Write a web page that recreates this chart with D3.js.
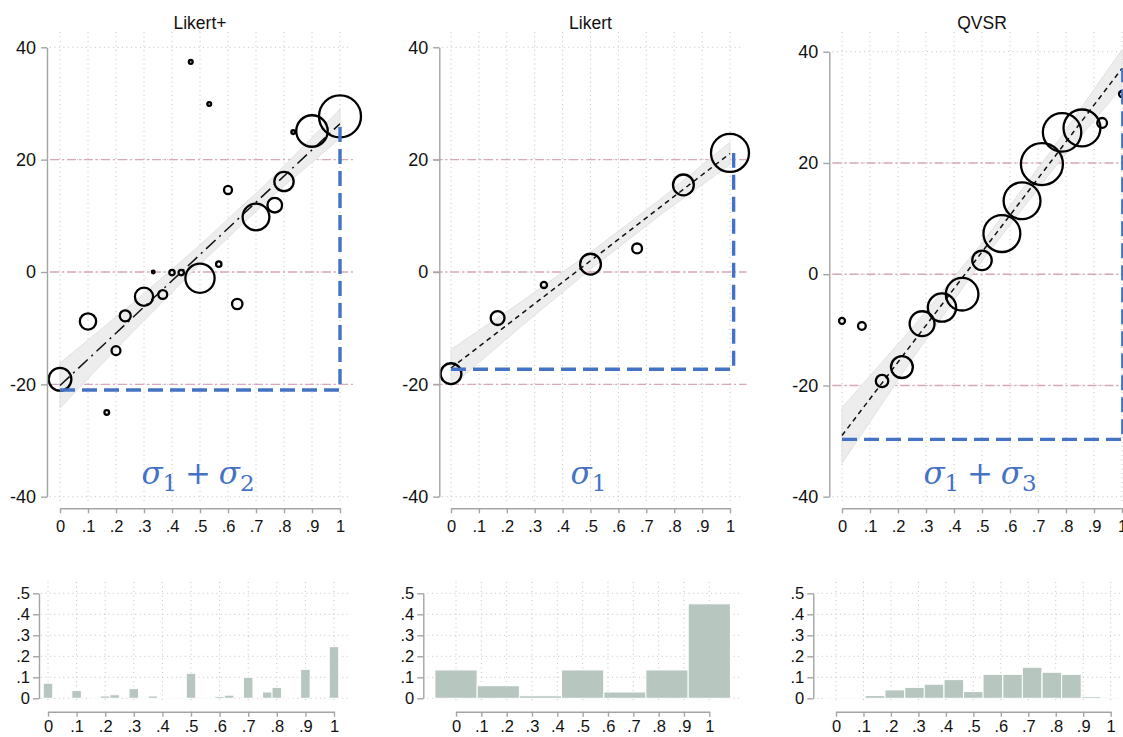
<!DOCTYPE html>
<html>
<head>
<meta charset="utf-8">
<title>Likert+ / Likert / QVSR</title>
<script src="https://cdn.jsdelivr.net/npm/d3@7"></script>
<style>
  body { margin: 0; background: #fff; }
  svg { display: block; font-family: "Liberation Sans", Arial, sans-serif; }
  .grid line { stroke: #c2c2c2; stroke-width: 1; stroke-dasharray: 1 3.5; }
  .axis path, .axis line { stroke: #a4a4a4; stroke-width: 1.4; }
  .axis text { fill: #111; font-family: "Liberation Sans", Arial, sans-serif; }
  .ytop text { font-size: 18px; }
  .xtop text { font-size: 16.5px; }
  .hist text { font-size: 16.5px; }
  .ref { stroke: #d8a8b8; stroke-width: 1.4; stroke-dasharray: 9 3 2 3; }
  .band { fill: #ededed; stroke: #dcdcdc; stroke-width: 0.8; }
  .fit { fill: none; stroke: #111; stroke-width: 1.5; }
  .bubble { fill: none; stroke: #000; stroke-width: 2.3; }
  .bar { fill: #b7c7c0; stroke: #fff; stroke-width: 1; }
  .anno { fill: none; stroke: #4472c4; stroke-width: 3.4; stroke-dasharray: 15 7; }
  .sigma { fill: #4472c4; font-family: "DejaVu Serif", serif; }
  .title { font-size: 17.5px; fill: #111; }
</style>
</head>
<body>
<svg id="chart" width="1123" height="737"></svg>
<script>

  // ---- data ----
  const likertPlusX = [0, .1, .167, .2, .233, .3, .333, .367, .4, .433, .467, .5, .533, .567, .6, .633, .7, .767, .8, .833, .9, 1];
  const likertPlusY = [-19.1, -8.8, -25, -14, -7.8, -4.4, 0, -4, -0.1, -0.1, 37.4, -1.1, 29.9, 1.4, 14.6, -5.7, 9.8, 11.9, 16.1, 24.9, 25.1, 27.7];
  const likertPlusShare = [.072, .037, .003, .011, .017, .046, .001, .011, .004, .004, .002, .119, .002, .004, .009, .015, .1, .03, .052, .002, .138, .246];

  const likertX = [0, .167, .333, .5, .667, .833, 1];
  const likertY = [-18.1, -8.2, -2.3, 1.4, 4.2, 15.5, 21.2];
  const likertShare = [.135, .06, .012, .135, .03, .135, .45];

  const qvsrX = [0, .071, .143, .214, .286, .357, .429, .5, .571, .643, .714, .786, .857, .929, 1];
  const qvsrY = [-8.4, -9.3, -19.2, -16.7, -8.9, -6, -3.6, 2.5, 7.3, 13.2, 19.8, 25.5, 26.3, 27.2, 32.4];
  const qvsrShare = [.003, .005, .013, .04, .052, .067, .089, .032, .114, .114, .148, .124, .114, .008, .003];

  // fitted line and confidence band, read at these x
  const fitX = [0, .25, .5, .75, 1];
  const likertPlusFit = [-20.2, -8.55, 3.1, 14.75, 26.4];
  const likertPlusLo = [-24.2, -11.15, 1.4, 13.15, 23.8];
  const likertPlusHi = [-16.2, -5.95, 4.8, 16.35, 29.0];
  const likertFit = [-17.1, -7.55, 2.0, 11.55, 21.1];
  const likertLo = [-20.4, -9.75, 0.5, 10.15, 19.1];
  const likertHi = [-13.8, -5.35, 3.5, 12.95, 23.1];
  const qvsrFit = [-29, -12.5, 4.0, 20.5, 37];
  const qvsrLo = [-34, -15.3, 2.4, 18.6, 33.6];
  const qvsrHi = [-24, -9.7, 5.6, 22.4, 40.4];

  // blue hand-drawn annotation: corner x, base level, top level
  const annoX = [1, 1.013, 1.003];
  const annoBase = [-21, -17.3, -29.7];
  const annoTop = [26.5, 21.2, 37];
  const sigmaSubs = [["1", "2"], ["1"], ["1", "3"]];

  const titles = ["Likert+", "Likert", "QVSR"];
  const refLines = [-20, 0, 20];
  const yTicks = [-40, -20, 0, 20, 40];
  const yTickLabels = ["-40", "-20", "0", "20", "40"];
  const xTicks = [0, .1, .2, .3, .4, .5, .6, .7, .8, .9, 1];
  const xTickLabels = ["0", ".1", ".2", ".3", ".4", ".5", ".6", ".7", ".8", ".9", "1"];
  const hTicks = [0, .1, .2, .3, .4, .5];
  const hTickLabels = ["0", ".1", ".2", ".3", ".4", ".5"];

  // ---- layout ----
  const panels = [
    { x: likertPlusX, y: likertPlusY, w: likertPlusShare, fit: likertPlusFit, lo: likertPlusLo, hi: likertPlusHi,
      xr: [60, 340], yr: [496.7, 47.3], axX: 47, axY: 508.3, ext: [-0.036, 1.04],
      hxr: [48, 334], haxX: 39, hext: [-0.025, 1.056], bin: 1 / 30, rmax: 21, dash: "13 5 2 5" },
    { x: likertX, y: likertY, w: likertShare, fit: likertFit, lo: likertLo, hi: likertHi,
      xr: [451, 730], yr: [496.7, 47.3], axX: 439.3, axY: 508.3, ext: [-0.064, 1.045],
      hxr: [456, 709.3], haxX: 423.3, hext: [-0.13, 1.12], bin: 1 / 6, rmax: 19, dash: "5 4" },
    { x: qvsrX, y: qvsrY, w: qvsrShare, fit: qvsrFit, lo: qvsrLo, hi: qvsrHi,
      xr: [842, 1122], yr: [496.7, 51.7], axX: 829.3, axY: 508.3, ext: [-0.034, 1.06],
      hxr: [836, 1110.7], haxX: 813.3, hext: [-0.084, 1.06], bin: 1 / 14, rmax: 21, dash: "5 4" }
  ];

  const svg = d3.select("#chart");

  panels.forEach((p, i) => {
    let x = d3.scaleLinear().domain([0, 1]).range(p.xr);
    let y = d3.scaleLinear().domain([-40, 40]).range(p.yr);
    let r = d3.scaleSqrt().domain([0, d3.max(p.w)]).range([0, p.rmax]);
    let g = svg.append("g");

    // grid
    let grid = g.append("g").attr("class", "grid");
    grid.selectAll(".v").data(xTicks).join("line")
      .attr("x1", d => x(d)).attr("x2", d => x(d))
      .attr("y1", 32).attr("y2", 504);
    grid.selectAll(".h").data(yTicks).join("line")
      .attr("x1", x(p.ext[0])).attr("x2", x(p.ext[1]))
      .attr("y1", d => y(d)).attr("y2", d => y(d));

    g.selectAll(".ref").data(refLines).join("line").attr("class", "ref")
      .attr("x1", x(p.ext[0])).attr("x2", x(p.ext[1]) + 4)
      .attr("y1", d => y(d)).attr("y2", d => y(d));

    // confidence band + fit
    let band = d3.area().x(d => x(d)).y0((d, k) => y(p.lo[k])).y1((d, k) => y(p.hi[k]));
    g.append("path").attr("class", "band").attr("d", band(fitX));
    let line = d3.line().x(d => x(d)).y((d, k) => y(p.fit[k]));
    g.append("path").attr("class", "fit").attr("stroke-dasharray", p.dash).attr("d", line(fitX));

    // bubbles
    g.selectAll(".bubble").data(p.x).join("circle").attr("class", "bubble")
      .attr("cx", d => x(d))
      .attr("cy", (d, k) => y(p.y[k]))
      .attr("r", (d, k) => Math.max(1.3, r(p.w[k])));

    // axes
    g.append("g").attr("class", "axis ytop").attr("transform", `translate(${p.axX},0)`)
      .call(d3.axisLeft(y).tickValues(yTicks).tickFormat((d, k) => yTickLabels[k])
        .tickSize(6).tickPadding(5).tickSizeOuter(0));
    g.append("g").attr("class", "axis xtop").attr("transform", `translate(0,${p.axY})`)
      .call(d3.axisBottom(x).tickValues(xTicks).tickFormat((d, k) => xTickLabels[k])
        .tickSize(5).tickPadding(7).tickSizeOuter(0));

    g.append("text").attr("class", "title")
      .attr("x", (p.xr[0] + p.xr[1]) / 2).attr("y", 29)
      .attr("text-anchor", "middle").text(titles[i]);

    // blue annotation
    g.append("path").attr("class", "anno")
      .attr("d", d3.line()([[x(0), y(annoBase[i])], [x(annoX[i]), y(annoBase[i])], [x(annoX[i]), y(annoTop[i])]]));

    let t = g.append("text").attr("class", "sigma").attr("text-anchor", "middle")
      .attr("x", (p.xr[0] + p.xr[1]) / 2 - 2).attr("y", 484);
    sigmaSubs[i].forEach((s, k) => {
      if (k > 0) t.append("tspan").style("font-size", "31px").attr("dy", -7).text("\u2005+\u2005");
      t.append("tspan").style("font-size", "31px").attr("font-style", "italic").text("σ");
      t.append("tspan").style("font-size", "23px").attr("dy", 7).text(s);
    });

    // ---- histogram below ----
    let hx = d3.scaleLinear().domain([0, 1]).range(p.hxr);
    let hy = d3.scaleLinear().domain([0, .5]).range([698.3, 593.3]);
    let hg = svg.append("g");
    let hgrid = hg.append("g").attr("class", "grid");
    hgrid.selectAll(".v").data(xTicks).join("line")
      .attr("x1", d => hx(d)).attr("x2", d => hx(d))
      .attr("y1", 582).attr("y2", 703);
    hgrid.selectAll(".h").data(hTicks).join("line")
      .attr("x1", hx(p.hext[0])).attr("x2", hx(p.hext[1]))
      .attr("y1", d => hy(d)).attr("y2", d => hy(d));

    hg.selectAll(".bar").data(p.x).join("rect").attr("class", "bar")
      .attr("x", d => hx(d - p.bin / 2))
      .attr("width", hx(p.bin) - hx(0))
      .attr("y", (d, k) => hy(p.w[k]))
      .attr("height", (d, k) => hy(0) - hy(p.w[k]));

    hg.append("g").attr("class", "axis hist").attr("transform", `translate(${p.haxX},0)`)
      .call(d3.axisLeft(hy).tickValues(hTicks).tickFormat((d, k) => hTickLabels[k])
        .tickSize(6).tickPadding(3).tickSizeOuter(0));
    hg.append("g").attr("class", "axis hist").attr("transform", "translate(0,711.7)")
      .call(d3.axisBottom(hx).tickValues(xTicks).tickFormat((d, k) => xTickLabels[k])
        .tickSize(5).tickPadding(4).tickSizeOuter(0));
  });

</script>
</body>
</html>
